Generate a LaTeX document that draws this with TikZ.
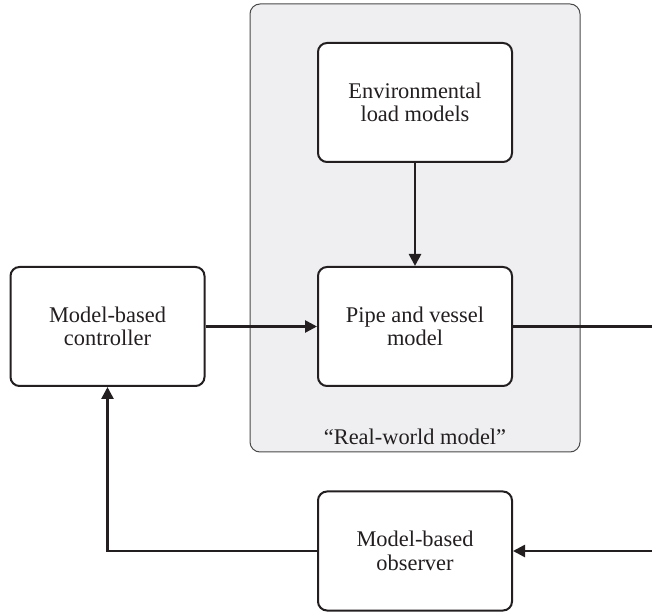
\documentclass[tikz,border=0pt]{standalone}
\usepackage{fontspec}
\setmainfont{Liberation Serif}
\usetikzlibrary{arrows.meta}
\definecolor{panelfill}{HTML}{EFEFF1}
\definecolor{panelline}{HTML}{4A4A4A}
\definecolor{ink}{HTML}{231F20}
\begin{document}
\begin{tikzpicture}[x=0.5pt,y=-0.5pt,
  blockbox/.style={draw=ink,line width=1pt,fill=white,rounded corners=4.5pt,
    minimum width=97pt,minimum height=59.5pt,align=center,inner sep=0pt,
    font=\fontsize{11.2}{11.8}\selectfont,text=ink},
  flow/.style={draw=ink,line width=1.3pt},
  tip/.style={-{Triangle[length=6pt,width=6pt]}}]
\useasboundingbox (0,0) rectangle (652,613);
\node[draw=panelline,fill=panelfill,line width=0.5pt,rounded corners=5pt,
  minimum width=165pt,minimum height=224pt,inner sep=0pt] (panel) at (415,228) {};
\node[blockbox] (env) at (415,102.5) {Environmental\\load models};
\node[blockbox] (pipe) at (415,326.5) {Pipe and vessel\\model};
\node[blockbox] (ctrl) at (107.5,326.5) {Model-based\\controller};
\node[blockbox] (obs) at (415,551) {Model-based\\observer};
\node[font=\fontsize{11.2}{11.8}\selectfont,text=ink] (rwlabel) at (415,437) {``Real-world model''};
\coordinate (outR) at (652,326.5);
\coordinate (inR) at (652,551);
\draw[flow,tip] (env) -- (pipe);
\draw[flow,tip] (ctrl) -- (pipe);
\draw[flow] (pipe) -- (outR);
\draw[flow,tip] (inR) -- (obs);
\draw[flow,tip] (obs.west) -| (ctrl.south);
\end{tikzpicture}
\end{document}
